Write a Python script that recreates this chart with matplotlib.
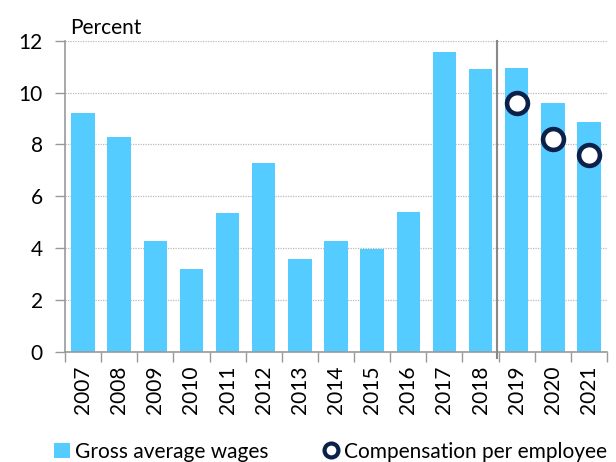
import matplotlib
matplotlib.use("Agg")
import matplotlib.pyplot as plt
from matplotlib.patches import Patch
from matplotlib.lines import Line2D
import numpy as np

years = ["2007", "2008", "2009", "2010", "2011", "2012", "2013", "2014",
         "2015", "2016", "2017", "2018", "2019", "2020", "2021"]
gross_wages = [9.2, 8.27, 4.28, 3.19, 5.37, 7.28, 3.57, 4.28, 3.98, 5.4,
               11.56, 10.9, 10.93, 9.58, 8.88]
comp_years = ["2019", "2020", "2021"]
comp_per_employee = [9.6, 8.2, 7.6]
yticks = [0, 2, 4, 6, 8, 10, 12]

plt.rcParams['font.family'] = ['Lato', 'DejaVu Sans']

bar_color = "#55CCFF"
navy = "#0B2149"
gray = "#999999"
fs = 15

fig = plt.figure(figsize=(6.16, 4.62), dpi=100)
ax = fig.add_axes([65/616, 1-352/462, (607-65)/616, (352-40.7)/462])

x = np.arange(len(years))
ax.bar(x, gross_wages, width=0.65, color=bar_color, zorder=2)
cx = [years.index(y) for y in comp_years]
ax.plot(cx, comp_per_employee, linestyle="none", marker="o", markersize=15,
        markerfacecolor="white", markeredgecolor=navy, markeredgewidth=3.3, zorder=4)

ax.set_xlim(-0.5, len(years) - 0.5)
ax.set_ylim(0, 12)
ax.set_yticks(yticks)
ax.set_yticklabels([str(v) for v in yticks], fontsize=fs)
ax.yaxis.grid(True, linestyle=(0, (1, 1)), color="#bbbbbb", linewidth=0.9, zorder=0)
ax.set_axisbelow(True)

ax.set_xticks(x)
ax.set_xticklabels(years, rotation=90, fontsize=fs)
ax.set_xticks(np.arange(len(years) + 1) - 0.5, minor=True)
ax.tick_params(axis="x", which="major", length=0, pad=10)
ax.tick_params(axis="x", which="minor", length=7, color=gray, width=1)
ax.tick_params(axis="y", length=7, color=gray, width=1, pad=9)

for s in ["top", "right"]:
    ax.spines[s].set_visible(False)
for s in ["left", "bottom"]:
    ax.spines[s].set_color(gray)
    ax.spines[s].set_linewidth(1.2)

# vertical separator between actual and forecast
ax.plot([11.46, 11.46], [-0.25, 12], color="#888888", linewidth=1.5,
        clip_on=False, zorder=3)

ax.text(0.01, 1.008, "Percent", transform=ax.transAxes, fontsize=fs,
        ha="left", va="bottom")

handles = [Patch(facecolor=bar_color, edgecolor="none"),
           Line2D([], [], linestyle="none", marker="o", markersize=10,
                  markerfacecolor="white", markeredgecolor=navy, markeredgewidth=3)]
fig.legend(handles, ["Gross average wages", "Compensation per employee"],
           loc="lower left", bbox_to_anchor=(44/616, -0.022), ncol=2, frameon=False,
           fontsize=fs, handlelength=0.75, handleheight=0.75, handletextpad=0.25,
           columnspacing=2.6, borderpad=0)

fig.savefig("out.png", dpi=100)
